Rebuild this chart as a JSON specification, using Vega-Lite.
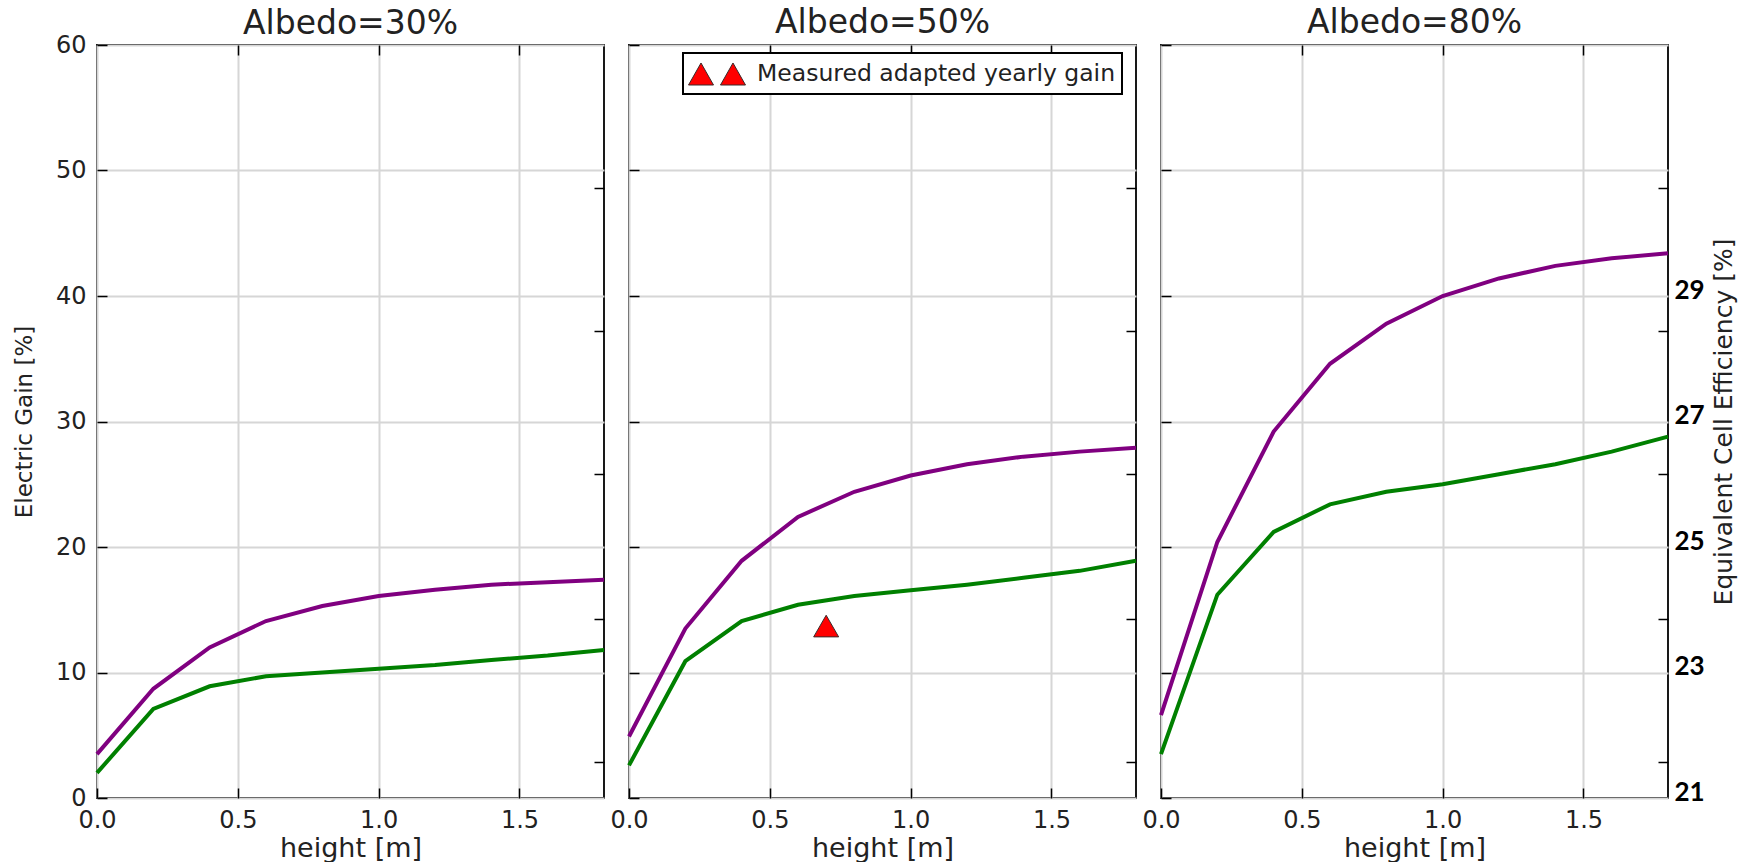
{
  "$schema": "https://vega.github.io/schema/vega-lite/v6.json",
  "padding": {"left": 12, "top": 6, "right": 0, "bottom": 0},
  "bounds": "flush",
  "spacing": 25,
  "datasets": {
    "curves": [
      {"albedo": "30%", "series": "S1", "h": 0.0, "gain": 3.5},
      {"albedo": "30%", "series": "S1", "h": 0.2, "gain": 8.7},
      {"albedo": "30%", "series": "S1", "h": 0.4, "gain": 12.0},
      {"albedo": "30%", "series": "S1", "h": 0.6, "gain": 14.1},
      {"albedo": "30%", "series": "S1", "h": 0.8, "gain": 15.3},
      {"albedo": "30%", "series": "S1", "h": 1.0, "gain": 16.1},
      {"albedo": "30%", "series": "S1", "h": 1.2, "gain": 16.6},
      {"albedo": "30%", "series": "S1", "h": 1.4, "gain": 17.0},
      {"albedo": "30%", "series": "S1", "h": 1.6, "gain": 17.2},
      {"albedo": "30%", "series": "S1", "h": 1.8, "gain": 17.4},
      {"albedo": "30%", "series": "S2", "h": 0.0, "gain": 2.0},
      {"albedo": "30%", "series": "S2", "h": 0.2, "gain": 7.1},
      {"albedo": "30%", "series": "S2", "h": 0.4, "gain": 8.9},
      {"albedo": "30%", "series": "S2", "h": 0.6, "gain": 9.7},
      {"albedo": "30%", "series": "S2", "h": 0.8, "gain": 10.0},
      {"albedo": "30%", "series": "S2", "h": 1.0, "gain": 10.3},
      {"albedo": "30%", "series": "S2", "h": 1.2, "gain": 10.6},
      {"albedo": "30%", "series": "S2", "h": 1.4, "gain": 11.0},
      {"albedo": "30%", "series": "S2", "h": 1.6, "gain": 11.35},
      {"albedo": "30%", "series": "S2", "h": 1.8, "gain": 11.8},
      {"albedo": "50%", "series": "S1", "h": 0.0, "gain": 4.9},
      {"albedo": "50%", "series": "S1", "h": 0.2, "gain": 13.5},
      {"albedo": "50%", "series": "S1", "h": 0.4, "gain": 18.9},
      {"albedo": "50%", "series": "S1", "h": 0.6, "gain": 22.4},
      {"albedo": "50%", "series": "S1", "h": 0.8, "gain": 24.4},
      {"albedo": "50%", "series": "S1", "h": 1.0, "gain": 25.7},
      {"albedo": "50%", "series": "S1", "h": 1.2, "gain": 26.6},
      {"albedo": "50%", "series": "S1", "h": 1.4, "gain": 27.2},
      {"albedo": "50%", "series": "S1", "h": 1.6, "gain": 27.6},
      {"albedo": "50%", "series": "S1", "h": 1.8, "gain": 27.9},
      {"albedo": "50%", "series": "S2", "h": 0.0, "gain": 2.6},
      {"albedo": "50%", "series": "S2", "h": 0.2, "gain": 10.9},
      {"albedo": "50%", "series": "S2", "h": 0.4, "gain": 14.1},
      {"albedo": "50%", "series": "S2", "h": 0.6, "gain": 15.4},
      {"albedo": "50%", "series": "S2", "h": 0.8, "gain": 16.1},
      {"albedo": "50%", "series": "S2", "h": 1.0, "gain": 16.55},
      {"albedo": "50%", "series": "S2", "h": 1.2, "gain": 17.0},
      {"albedo": "50%", "series": "S2", "h": 1.4, "gain": 17.55},
      {"albedo": "50%", "series": "S2", "h": 1.6, "gain": 18.1},
      {"albedo": "50%", "series": "S2", "h": 1.8, "gain": 18.9},
      {"albedo": "80%", "series": "S1", "h": 0.0, "gain": 6.6},
      {"albedo": "80%", "series": "S1", "h": 0.2, "gain": 20.4},
      {"albedo": "80%", "series": "S1", "h": 0.4, "gain": 29.2},
      {"albedo": "80%", "series": "S1", "h": 0.6, "gain": 34.6},
      {"albedo": "80%", "series": "S1", "h": 0.8, "gain": 37.8},
      {"albedo": "80%", "series": "S1", "h": 1.0, "gain": 40.0},
      {"albedo": "80%", "series": "S1", "h": 1.2, "gain": 41.4},
      {"albedo": "80%", "series": "S1", "h": 1.4, "gain": 42.4},
      {"albedo": "80%", "series": "S1", "h": 1.6, "gain": 43.0},
      {"albedo": "80%", "series": "S1", "h": 1.8, "gain": 43.4},
      {"albedo": "80%", "series": "S2", "h": 0.0, "gain": 3.5},
      {"albedo": "80%", "series": "S2", "h": 0.2, "gain": 16.2},
      {"albedo": "80%", "series": "S2", "h": 0.4, "gain": 21.2},
      {"albedo": "80%", "series": "S2", "h": 0.6, "gain": 23.4},
      {"albedo": "80%", "series": "S2", "h": 0.8, "gain": 24.4},
      {"albedo": "80%", "series": "S2", "h": 1.0, "gain": 25.0},
      {"albedo": "80%", "series": "S2", "h": 1.2, "gain": 25.8},
      {"albedo": "80%", "series": "S2", "h": 1.4, "gain": 26.6},
      {"albedo": "80%", "series": "S2", "h": 1.6, "gain": 27.6},
      {"albedo": "80%", "series": "S2", "h": 1.8, "gain": 28.8}
    ],
    "measured": [
      {"albedo": "50%", "label": "Measured adapted yearly gain", "h": 0.7, "gain": 13.7}
    ]
  },
  "hconcat": [
    {
      "title": {"text": "Albedo=30%", "offset": -8},
      "width": 507,
      "height": 753,
      "data": {"name": "curves"},
      "transform": [{"filter": "datum.albedo == '30%'"}],
      "layer": [
        {
          "mark": {"type": "line", "strokeWidth": 4},
          "encoding": {
            "x": {"field": "h", "type": "quantitative", "scale": {"domain": [0, 1.8], "nice": false, "zero": false},
              "axis": {"orient": "bottom", "values": [0, 0.5, 1, 1.5], "format": ".1f", "grid": true, "labelFlush": false, "labelPadding": 20, "title": "height [m]", "titleFontSize": 27, "titlePadding": 3}},
            "y": {"field": "gain", "type": "quantitative", "scale": {"domain": [0, 60], "nice": false},
              "axis": {"orient": "left", "values": [0, 10, 20, 30, 40, 50, 60], "grid": true, "labelPadding": 21, "title": "Electric Gain [%]", "titleFontSize": 23, "titlePadding": 19}},
            "color": {"field": "series", "type": "nominal", "scale": {"domain": ["S1", "S2"], "range": ["#800080", "#008000"]}, "legend": null}
          }
        },
        {
          "mark": {"type": "line", "opacity": 0},
          "encoding": {
            "x": {"field": "h", "type": "quantitative", "axis": {"orient": "top", "values": [0.5, 1, 1.5], "labels": false, "grid": false, "title": null}},
            "y": {"field": "gain", "type": "quantitative", "axis": {"orient": "right", "values": [2.9, 14.3, 25.8, 37.2, 48.6], "labels": false, "grid": false, "title": null}},
            "detail": {"field": "series"}
          }
        }
      ],
      "resolve": {"axis": {"x": "independent", "y": "independent"}}
    },
    {
      "title": {"text": "Albedo=50%", "offset": 4},
      "width": 507,
      "height": 753,
      "layer": [
        {
          "data": {"name": "curves"},
          "transform": [{"filter": "datum.albedo == '50%'"}],
          "mark": {"type": "line", "strokeWidth": 4},
          "encoding": {
            "x": {"field": "h", "type": "quantitative", "scale": {"domain": [0, 1.8], "nice": false, "zero": false},
              "axis": {"orient": "bottom", "values": [0, 0.5, 1, 1.5], "format": ".1f", "grid": true, "labelFlush": false, "labelPadding": 20, "title": "height [m]", "titleFontSize": 27, "titlePadding": 3}},
            "y": {"field": "gain", "type": "quantitative", "scale": {"domain": [0, 60], "nice": false},
              "axis": {"orient": "left", "values": [0, 10, 20, 30, 40, 50, 60], "grid": true, "labels": false, "title": null}},
            "color": {"field": "series", "type": "nominal", "scale": {"domain": ["S1", "S2"], "range": ["#800080", "#008000"]}, "legend": null}
          }
        },
        {
          "data": {"name": "curves"},
          "transform": [{"filter": "datum.albedo == '50%'"}],
          "mark": {"type": "line", "opacity": 0},
          "encoding": {
            "x": {"field": "h", "type": "quantitative", "axis": {"orient": "top", "values": [0.5, 1, 1.5], "labels": false, "grid": false, "title": null}},
            "y": {"field": "gain", "type": "quantitative", "axis": {"orient": "right", "values": [2.9, 14.3, 25.8, 37.2, 48.6], "labels": false, "grid": false, "title": null}},
            "detail": {"field": "series"}
          }
        },
        {
          "data": {"name": "measured"},
          "mark": {"type": "point", "shape": "triangle-up", "filled": true, "size": 625, "stroke": "#3a2a2a", "strokeWidth": 1, "opacity": 1},
          "encoding": {
            "x": {"field": "h", "type": "quantitative", "axis": null},
            "y": {"field": "gain", "type": "quantitative", "axis": null},
            "fill": {"field": "label", "type": "nominal", "scale": {"range": ["#ff0000"]},
              "legend": {
                "orient": "none", "legendX": 54, "legendY": 8, "title": null,
                "padding": 6, "strokeColor": "black", "fillColor": "white",
                "symbolSize": 841, "symbolOffset": 13, "labelOffset": 25, "labelLimit": 600,
                "labelFont": "DejaVu Sans", "labelFontSize": 23.5, "labelColor": "#222",
                "symbolStrokeColor": "#3a2a2a", "symbolStrokeWidth": 1, "symbolOpacity": 1,
                "symbolType": "M-1.965,0.759L-1.103,-0.759L-0.241,0.759Z M0.241,0.759L1.103,-0.759L1.965,0.759Z",
                "encode": {
                  "symbols": {"update": {"shape": {"value": "M-1.965,0.759L-1.103,-0.759L-0.241,0.759Z M0.241,0.759L1.103,-0.759L1.965,0.759Z"}, "size": {"value": 841}}},
                  "legend": {"update": {"strokeWidth": {"value": 2}}}
                }
              }
            }
          }
        }
      ],
      "resolve": {"axis": {"x": "independent", "y": "independent"}}
    },
    {
      "title": {"text": "Albedo=80%", "offset": 4},
      "width": 507,
      "height": 753,
      "data": {"name": "curves"},
      "transform": [{"filter": "datum.albedo == '80%'"}],
      "layer": [
        {
          "mark": {"type": "line", "strokeWidth": 4},
          "encoding": {
            "x": {"field": "h", "type": "quantitative", "scale": {"domain": [0, 1.8], "nice": false, "zero": false},
              "axis": {"orient": "bottom", "values": [0, 0.5, 1, 1.5], "format": ".1f", "grid": true, "labelFlush": false, "labelPadding": 20, "title": "height [m]", "titleFontSize": 27, "titlePadding": 3}},
            "y": {"field": "gain", "type": "quantitative", "scale": {"domain": [0, 60], "nice": false},
              "axis": {"orient": "left", "values": [0, 10, 20, 30, 40, 50, 60], "grid": true, "labels": false, "title": null}},
            "color": {"field": "series", "type": "nominal", "scale": {"domain": ["S1", "S2"], "range": ["#800080", "#008000"]}, "legend": null}
          }
        },
        {
          "mark": {"type": "line", "opacity": 0},
          "encoding": {
            "x": {"field": "h", "type": "quantitative", "axis": {"orient": "top", "values": [0.5, 1, 1.5], "labels": false, "grid": false, "title": null}},
            "y": {"field": "gain", "type": "quantitative", "axis": {
              "orient": "right",
              "values": [0, 2.9, 10, 14.3, 20, 25.8, 30, 37.2, 40, 48.6],
              "labelExpr": "datum.value % 10 == 0 ? '' + (21 + datum.value / 5) : ''",
              "tickOpacity": {"condition": {"test": "datum.value % 10 == 0", "value": 0}, "value": 1},
              "labelFont": "Lato", "labelFontWeight": "bold", "labelFontSize": 26, "labelColor": "black",
              "labelPadding": 16, "labelOffset": -6,
              "grid": false,
              "title": "Equivalent Cell Efficiency [%]", "titleFontSize": 25, "titleAngle": 270, "titleBaseline": "top", "titlePadding": 7
            }},
            "detail": {"field": "series"}
          }
        }
      ],
      "resolve": {"axis": {"x": "independent", "y": "independent"}}
    }
  ],
  "resolve": {"legend": {"fill": "independent"}, "scale": {"fill": "independent"}},
  "config": {
    "view": {"stroke": "black", "strokeWidth": 1.8},
    "font": "DejaVu Sans",
    "axis": {
      "domain": false, "tickColor": "black", "tickWidth": 1.5, "tickSize": -10,
      "labelFont": "DejaVu Sans", "labelFontSize": 24, "labelColor": "#222",
      "titleFont": "DejaVu Sans", "titleFontSize": 23, "titleFontWeight": "normal", "titleColor": "#222",
      "gridColor": "#d6d6d6", "gridWidth": 2
    },
    "title": {"font": "DejaVu Sans", "fontSize": 33, "fontWeight": "normal", "color": "#222", "baseline": "alphabetic", "anchor": "middle", "frame": "group"}
  }
}
